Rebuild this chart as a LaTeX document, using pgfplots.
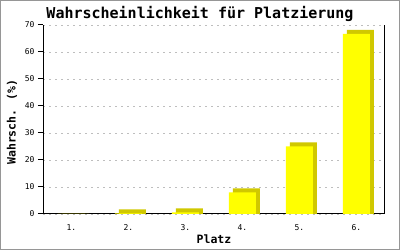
\documentclass[border=0pt]{standalone}
\usepackage{fontspec}
\setmainfont{DejaVu Sans Mono}
\usepackage{pgfplots}
\pgfplotsset{compat=1.18}
\definecolor{baryellow}{RGB}{255,255,0}
\definecolor{barside}{RGB}{208,200,0}
\definecolor{gridgray}{RGB}{190,190,190}
\definecolor{framegray}{RGB}{150,150,150}
\begin{document}
\begin{tikzpicture}
\path[use as bounding box] (0bp,0bp) rectangle (400bp,250bp);
\draw[framegray,line width=1.2bp] (0.6bp,0.6bp) rectangle (399.4bp,249.4bp);
\node[anchor=base,font=\fontsize{15bp}{17bp}\selectfont\bfseries] at (200bp,231.5bp) {Wahrscheinlichkeit für Platzierung};
\node[anchor=center,font=\fontsize{11.5bp}{13bp}\selectfont\bfseries] at (214bp,10.7bp) {Platz};
\node[anchor=center,rotate=90,font=\fontsize{11.5bp}{13bp}\selectfont\bfseries] at (12bp,128bp) {Wahrsch. (\%)};
\begin{axis}[
  at={(43bp,36bp)}, anchor=south west,
  scale only axis, width=342bp, height=189bp,
  xmin=0, xmax=6, ymin=0, ymax=70,
  axis x line*=bottom, axis y line*=box,
  axis line style={black, line width=1bp},
  xtick={0.5,1.5,2.5,3.5,4.5,5.5},
  xticklabels={1.,2.,3.,4.,5.,6.},
  x tick style={draw=none},
  ytick={0,10,...,70},
  ytick pos=left,
  tick align=outside,
  major tick length=5bp,
  y tick style={black, line width=1bp},
  ymajorgrids,
  grid style={gridgray, dash pattern=on 2bp off 4bp, line width=0.8bp},
  /pgf/number format/assume math mode=true,
  tick label style={font=\fontsize{8bp}{9bp}\selectfont},
  xticklabel style={yshift=-2bp},
  ybar, bar width=27bp,
  clip=false,
]
\addplot[draw=none, fill=barside, bar shift=4bp] coordinates {(0.5,0) (1.5,1.7) (2.5,2.1) (3.5,9.5) (4.5,26.5) (5.5,68.2)};
\addplot[draw=none, fill=baryellow, bar shift=0bp] coordinates {(0.5,0) (1.5,0.2) (2.5,0.6) (3.5,8.0) (4.5,25.0) (5.5,66.7)};
\end{axis}
\end{tikzpicture}
\end{document}
